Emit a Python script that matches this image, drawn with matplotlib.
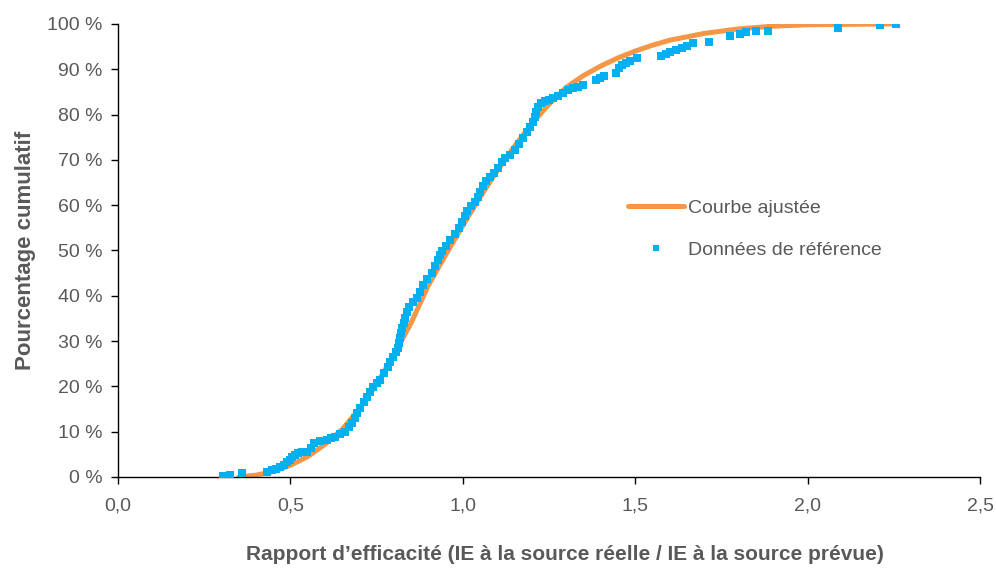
import numpy as np
import matplotlib
matplotlib.use('Agg')
import matplotlib.pyplot as plt
from matplotlib.ticker import FuncFormatter

plt.rcParams['font.family'] = ['Liberation Sans', 'DejaVu Sans']

# Courbe ajustée
fit_x = [0.35, 0.40, 0.45, 0.50, 0.55, 0.60, 0.65, 0.70, 0.75, 0.80, 0.85, 0.90,
         0.95, 1.00, 1.05, 1.10, 1.15, 1.20, 1.25, 1.30, 1.35, 1.40, 1.45, 1.50,
         1.55, 1.60, 1.70, 1.80, 1.90, 2.00, 2.25]
fit_y = [0.0, 0.4, 1.2, 2.6, 4.5, 7.2, 10.5, 15.0, 20.5, 27.0, 34.0, 42.3,
         49.0, 55.5, 61.8, 67.6, 73.0, 78.0, 82.3, 86.0, 88.6, 90.7, 92.5, 94.0,
         95.3, 96.4, 97.9, 98.9, 99.5, 99.8, 100.0]

# Données de référence
ref_x = [0.305, 0.325, 0.36, 0.432, 0.447, 0.458, 0.47, 0.481, 0.49, 0.499, 0.505,
         0.513, 0.522, 0.534, 0.548, 0.56, 0.568, 0.586, 0.606, 0.618, 0.629, 0.644,
         0.658, 0.67, 0.679, 0.687, 0.693, 0.702, 0.713, 0.722, 0.731, 0.74, 0.751,
         0.76, 0.771, 0.783, 0.789, 0.798, 0.806, 0.812, 0.815, 0.818, 0.821, 0.824,
         0.829, 0.832, 0.838, 0.844, 0.856, 0.867, 0.876, 0.885, 0.896, 0.911, 0.919,
         0.928, 0.934, 0.94, 0.951, 0.963, 0.977, 0.989, 0.998, 1.006, 1.012, 1.024,
         1.035, 1.044, 1.05, 1.059, 1.067, 1.079, 1.091, 1.102, 1.114, 1.122, 1.137,
         1.151, 1.163, 1.175, 1.186, 1.195, 1.204, 1.209, 1.212, 1.218, 1.227, 1.238,
         1.25, 1.262, 1.276, 1.291, 1.305, 1.32, 1.334, 1.349, 1.386, 1.398, 1.41,
         1.444, 1.453, 1.462, 1.473, 1.485, 1.505, 1.575, 1.589, 1.601, 1.618, 1.636,
         1.65, 1.668, 1.714, 1.775, 1.804, 1.821, 1.85, 1.885, 2.088, 2.21, 2.256]
ref_y = [0.2, 0.4, 0.9, 1.1, 1.5, 1.8, 2.2, 2.6, 3.3, 3.8, 4.4,
         4.9, 5.3, 5.5, 5.5, 6.4, 7.5, 7.9, 8.2, 8.6, 8.8, 9.5,
         9.9, 11.0, 11.9, 13.0, 14.1, 15.2, 16.6, 17.7, 18.8, 19.9, 20.8,
         21.4, 23.0, 24.3, 25.4, 26.5, 27.6, 28.5, 29.6, 30.7, 31.8, 32.9,
         34.0, 35.1, 36.4, 37.5, 38.6, 39.5, 40.8, 42.4, 43.7, 45.0, 46.6,
         47.9, 49.0, 49.9, 51.0, 52.3, 53.6, 55.0, 56.3, 57.6, 58.7, 59.8,
         60.7, 61.8, 62.9, 64.2, 65.3, 66.2, 67.1, 68.2, 69.5, 70.4, 71.1,
         72.2, 73.5, 74.8, 76.2, 77.3, 78.4, 79.5, 80.6, 81.7, 82.6, 83.0,
         83.2, 83.7, 84.1, 84.8, 85.4, 85.9, 86.1, 86.5, 87.6, 88.1, 88.5,
         89.2, 90.3, 90.9, 91.4, 91.8, 92.5, 92.9, 93.4, 93.8, 94.3, 94.7,
         95.1, 95.8, 96.0, 97.4, 97.8, 98.2, 98.5, 98.5, 99.1, 99.8, 100.0]

gris = '#595959'

fig = plt.figure(figsize=(9.96, 5.69), dpi=100)
ax = fig.add_axes([0.1185, 0.1617, 0.8655, 0.7963])

ax.plot(fit_x, fit_y, color='#F79646', lw=3.6, solid_capstyle='round',
        label='Courbe ajustée', zorder=2)
ax.plot(ref_x, ref_y, ls='none', marker='s', ms=5.2, color='#00B0F0',
        markeredgewidth=0, label='Données de référence', zorder=3)

ax.set_xlim(0, 2.5)
ax.set_ylim(0, 100)
ax.set_xticks(np.arange(0, 2.51, 0.5))
ax.set_yticks(np.arange(0, 101, 10))
ax.xaxis.set_major_formatter(FuncFormatter(lambda v, p: f'{v:.1f}'.replace('.', ',')))
ax.yaxis.set_major_formatter(FuncFormatter(lambda v, p: f'{v:.0f} %'))

for s in ['top', 'right']:
    ax.spines[s].set_visible(False)
for s in ['left', 'bottom']:
    ax.spines[s].set_color('#000000')
    ax.spines[s].set_linewidth(1.0)
ax.tick_params(direction='out', length=5, width=1, color='#000000',
               labelsize=14, labelcolor=gris)
ax.tick_params(axis='x', pad=10)
ax.tick_params(axis='y', pad=6)

ax.set_xlabel('Rapport d\u2019efficacité (IE à la source réelle / IE à la source prévue)',
              fontsize=15, fontweight='bold', color=gris)
ax.xaxis.set_label_coords(0.518, -0.150)
ax.set_ylabel('Pourcentage cumulatif', fontsize=16, fontweight='bold', color=gris,
              labelpad=8)

leg = ax.legend(loc='upper left', bbox_to_anchor=(0.571, 0.652), frameon=False,
                fontsize=14, handlelength=2.9, handletextpad=0.2, labelspacing=1.25,
                markerscale=0.9)
for t in leg.get_texts():
    t.set_color(gris)

fig.savefig('out.png', dpi=100)
